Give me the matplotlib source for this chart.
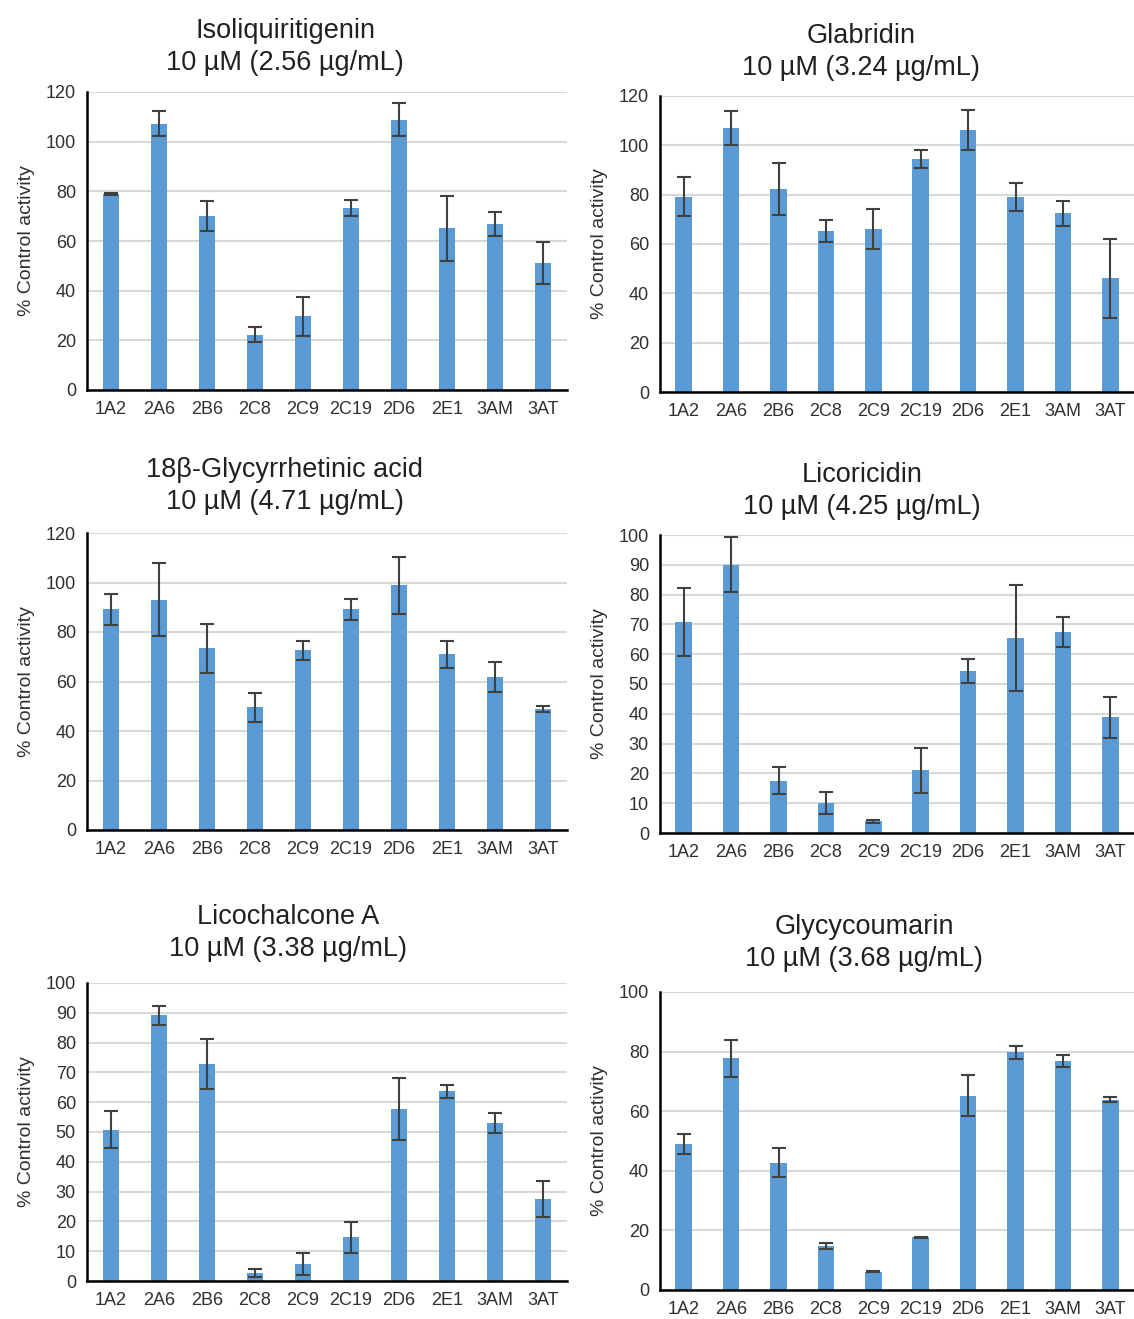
import numpy as np
import matplotlib
matplotlib.use('Agg')
from matplotlib import pyplot as plt

plt.rcParams['font.family'] = ['Liberation Sans', 'DejaVu Sans']

enzymes = ['1A2', '2A6', '2B6', '2C8', '2C9', '2C19', '2D6', '2E1', '3AM', '3AT']

titles = ['Isoliquiritigenin\n10 µM (2.56 µg/mL)',
          'Glabridin\n10 µM (3.24 µg/mL)',
          '18β-Glycyrrhetinic acid\n10 µM (4.71 µg/mL)',
          'Licoricidin\n10 µM (4.25 µg/mL)',
          'Licochalcone A\n10 µM (3.38 µg/mL)',
          'Glycycoumarin\n10 µM (3.68 µg/mL)']

isoliquiritigenin = [79.0, 107.3, 70.1, 22.2, 29.6, 73.3, 108.9, 65.1, 66.8, 51.1]
isoliquiritigenin_err = [0.5, 5.0, 6.0, 3.0, 8.0, 3.3, 6.5, 13.0, 4.8, 8.6]

glabridin = [79.2, 107.1, 82.4, 65.2, 66.0, 94.6, 106.3, 79.2, 72.4, 46.2]
glabridin_err = [7.8, 7.0, 10.6, 4.4, 8.2, 3.7, 8.0, 5.7, 4.9, 16.0]

glycyrrhetinic = [89.1, 93.1, 73.4, 49.5, 72.6, 89.1, 98.9, 71.0, 61.8, 48.8]
glycyrrhetinic_err = [6.2, 14.6, 9.9, 5.8, 3.8, 4.2, 11.6, 5.5, 6.2, 1.2]

licoricidin = [70.8, 90.0, 17.6, 10.1, 3.9, 21.0, 54.3, 65.4, 67.4, 38.8]
licoricidin_err = [11.3, 9.2, 4.4, 3.7, 0.5, 7.6, 4.1, 17.8, 5.1, 6.8]

licochalcone = [50.8, 89.1, 72.8, 2.8, 5.6, 14.6, 57.7, 63.7, 52.9, 27.5]
licochalcone_err = [6.2, 3.1, 8.3, 1.3, 3.7, 5.2, 10.3, 2.2, 3.4, 5.9]

glycycoumarin = [48.9, 77.7, 42.7, 14.9, 6.1, 17.7, 65.2, 79.7, 77.0, 63.9]
glycycoumarin_err = [3.4, 6.2, 4.8, 1.0, 0.2, 0.2, 6.9, 2.3, 2.0, 0.7]

values = [isoliquiritigenin, glabridin, glycyrrhetinic, licoricidin, licochalcone, glycycoumarin]
errors = [isoliquiritigenin_err, glabridin_err, glycyrrhetinic_err, licoricidin_err, licochalcone_err, glycycoumarin_err]
ymax = [120, 120, 120, 100, 100, 100]
ystep = [20, 20, 20, 10, 10, 20]

W, H = 1134, 1319
# axes boxes in pixels: left, right, top, bottom
boxes = [(87, 567, 92, 390), (660, 1134, 96, 392),
         (87, 567, 533, 830), (660, 1134, 535, 833),
         (87, 567, 983, 1281), (660, 1134, 992, 1290)]
title_x = [285, 861, 285, 862, 288, 864]
title_y = [70, 75, 509, 514, 956, 966]

fig = plt.figure(figsize=(W / 100, H / 100), dpi=100)
x = np.arange(len(enzymes))

for i in range(6):
    l, r, t, b = boxes[i]
    ax = fig.add_axes([l / W, 1 - b / H, (r - l) / W, (b - t) / H])
    ax.bar(x, values[i], width=0.35, color='#5B9BD5', zorder=2)
    ax.errorbar(x, values[i], yerr=errors[i], fmt='none', ecolor='#404040',
                elinewidth=1.5, capsize=5, capthick=1.5, zorder=3)
    ax.set_xlim(-0.5, 9.5)
    ax.set_ylim(0, ymax[i])
    ax.set_yticks(np.arange(0, ymax[i] + 1, ystep[i]))
    ax.set_xticks(x)
    ax.set_xticklabels(enzymes)
    ax.tick_params(length=0, labelsize=13, colors='#303030', pad=8)
    ax.yaxis.grid(True, color='#D9D9D9', linewidth=1.5, zorder=0)
    ax.set_axisbelow(True)
    for s in ['top', 'right']:
        ax.spines[s].set_visible(False)
    for s in ['left', 'bottom']:
        ax.spines[s].set_linewidth(1.8)
        ax.spines[s].set_color('black')
    ax.set_ylabel('% Control activity', fontsize=14, color='#303030', labelpad=8)
    fig.text(title_x[i] / W, 1 - title_y[i] / H, titles[i], ha='center', va='baseline',
             fontsize=19.5, color='#202020', linespacing=1.3)

plt.savefig('out.png', dpi=100)
